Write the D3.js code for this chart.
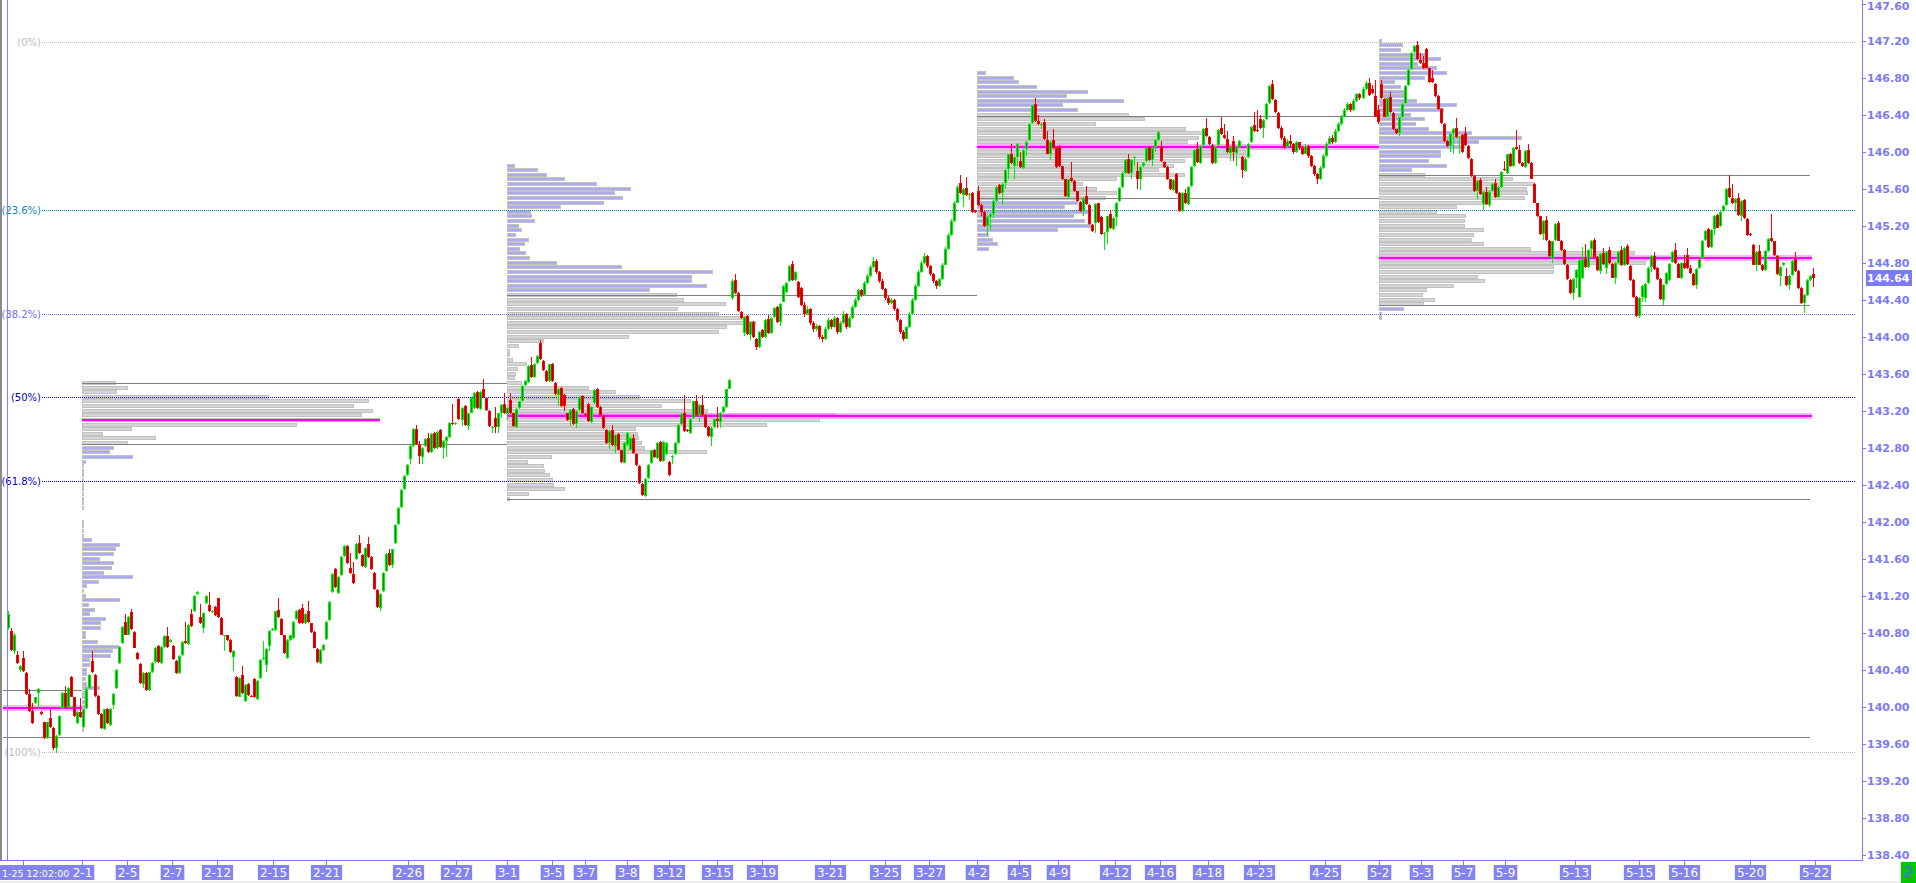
<!DOCTYPE html>
<html><head><meta charset="utf-8">
<script src="https://cdn.jsdelivr.net/npm/d3@7"></script>
<style>html,body{margin:0;padding:0;background:#fff;overflow:hidden}</style>
</head><body><svg id="c" width="1916" height="883"></svg>
<script>
// ---------------- DATA ----------------
// candle prices are stored in hundredths of a yen above PRICE_BASE: [open, high, low, close]
const PRICE_BASE = 140;
const ohlcFeb = [
[85,103,83,100],[82,85,60,61],[60,80,57,78],[56,60,46,47],[40,45,38,44],[53,60,37,39],[36,37,13,14],[14,19,-6,-5],[-5,4,-19,-18],[4,11,3,10],
[15,20,-2,19],[-6,-5,-9,-8],[-17,-16,-35,-34],[-34,-16,-35,-17],[-12,-2,-23,-22],[-23,-22,-47,-45],[-45,-31,-50,-32],[-31,-9,-32,-10],[-1,16,-2,15],[15,22,-1,0],
[0,21,-1,20],[32,33,10,11],[10,11,-11,-10],[-18,-5,-19,-6],[-6,9,-12,-11],[-22,-2,-23,-3],[-1,20,-2,19],[20,35,19,34],[49,60,36,37],[34,35,11,12],
[12,13,-9,-8],[-8,-7,-24,-23],[-24,-2,-25,-3],[-2,-1,-19,-18],[-20,-1,-21,-2],[2,15,-2,14],[20,41,19,40],[47,66,46,65],[69,87,68,86],[92,100,77,78],
[78,98,77,97],[102,106,83,84],[81,82,63,64],[58,59,51,52],[46,47,25,26],[25,37,20,36],[36,37,17,18],[18,38,17,37],[37,48,36,47],[48,65,47,64],
[66,67,47,48],[47,66,46,65],[65,77,64,76],[76,86,64,65],[70,73,69,72],[66,67,51,52],[49,50,35,36],[36,56,35,55],[56,71,55,70],[71,92,68,69],
[68,89,67,88],[100,106,86,87],[103,121,102,120],[122,125,121,124],[97,111,89,90],[85,102,80,101],[112,121,111,120],[110,124,102,103],[102,105,101,104],[108,109,98,99],
[117,118,96,97],[96,97,77,78],[77,78,60,77],[77,78,71,72],[72,73,58,59],[54,61,39,60],[32,33,11,12],[11,32,10,31],[34,44,14,15],[6,24,5,23],
[25,26,12,13],[12,13,10,11],[30,31,9,10],[8,29,7,28],[31,52,30,51],[52,71,51,53],[45,63,38,62],[66,83,60,82],[83,85,82,84],[83,104,82,103],
[105,117,96,97],[95,96,77,78],[77,78,57,58],[53,73,52,72],[72,78,71,77],[74,93,73,92],[95,105,94,104],[105,106,89,90],[107,111,89,90],[90,101,89,100],
[103,114,91,92],[90,91,80,81],[81,82,63,64],[62,63,47,48],[47,62,46,61],[61,68,60,67],[73,93,72,92],[94,114,93,113],
[124,145,123,144],[149,150,128,129],[123,141,122,140],[142,163,141,162],[163,175,162,174],[174,175,154,155],[150,166,144,145],[144,156,133,134],[160,177,159,176],[177,186,165,166],
[164,165,151,152],[151,173,150,172],[176,183,161,162],[162,163,148,149],[145,146,126,127],[126,127,107,108],[107,123,103,122],[125,146,124,145],[147,166,146,165],[166,170,152,153],
[153,171,150,170],[177,197,176,196],[197,216,196,215],[216,235,215,234],[235,250,234,249],[250,262,249,261],[268,283,262,282],[282,301,281,300],[300,305,283,284],[283,287,262,271],
[270,281,262,280],[282,290,281,289],[290,296,274,275],[275,296,274,295],[296,297,279,280],[280,298,279,297],[299,300,280,281],[280,288,268,287],[287,293,270,292],[292,308,291,307],
[307,327,305,306],[306,308,305,307],[333,334,310,311],[310,324,304,323],[325,326,304,305],[303,318,299,317],[318,335,317,334],[323,340,322,339],[340,341,322,323],[322,341,321,340],
[343,354,334,335],[334,335,320,321],[320,321,302,303],[302,303,296,302],[312,324,296,302],[302,318,296,317],[317,327,312,326],[327,339,316,317],[316,324,310,323],[332,339,316,317],
[317,318,302,303],[302,323,301,322],[323,331,322,330],[331,348,330,347]
];
const ohlcMar = [
[348,353,347,352],[351,369,350,368],[369,378,355,356],[356,372,355,371],[372,380,371,379],[393,396,375,376],[374,375,363,364],[363,364,351,352],[352,371,351,370],[371,372,351,352],
[350,351,337,338],[337,345,325,344],[345,346,324,325],[337,338,320,325],[317,318,309,310],[310,322,303,321],[322,323,305,306],[306,321,301,320],[321,336,320,335],[336,337,316,317],
[316,317,314,315],[327,328,308,309],[308,325,307,324],[328,343,327,342],[343,345,323,324],[324,325,314,315],[314,315,300,301],[299,300,284,285],[285,299,279,298],[299,305,282,283],
[282,295,274,294],[295,296,277,278],[277,278,264,265],[264,286,263,285],[283,297,282,296],[278,292,277,291],[291,295,273,274],[273,274,260,261],[260,261,241,242],[241,242,228,229],
[228,247,227,246],[247,262,246,261],[263,278,262,277],[278,279,269,270],[269,286,268,285],[286,287,265,266],[266,287,265,286],[273,286,272,285],[265,266,249,250],[270,272,262,271],
[273,286,272,285],[285,306,284,305],[306,317,305,316],[317,337,297,298],[299,300,297,298],[296,312,295,311],[312,331,311,330],[330,337,314,315],[315,327,308,326],[326,337,314,315],
[315,316,301,302],[302,303,292,293],[292,302,282,301],[302,312,301,311],[311,324,301,309],[308,319,301,318],[319,325,318,324],[324,344,323,343],[344,354,343,353],
[442,462,440,460],[461,468,446,447],[447,448,427,428],[427,428,419,420],[404,422,401,421],[422,423,402,403],[402,417,396,416],[416,417,399,400],[398,399,386,389],[389,406,388,405],
[407,408,399,400],[400,419,399,418],[419,423,403,404],[404,421,403,420],[421,432,420,431],[432,433,415,416],[416,436,412,435],[438,456,437,455],[448,459,447,458],[460,477,459,476],
[479,482,460,461],[461,471,460,470],[459,460,442,443],[453,454,433,434],
[434,437,421,425],[425,433,423,430],[430,431,413,415],[415,417,405,408],[408,414,406,412],[412,413,397,400],[400,402,394,398],[398,410,396,408],[408,420,407,418],[418,419,408,410],
[410,422,409,420],[420,421,403,405],[405,417,404,415],[415,428,414,425],[425,426,408,410],[410,422,409,420],[420,434,419,432],[432,442,431,440],[440,452,439,450],[450,452,443,445],
[445,460,444,458],[458,468,457,466],[466,477,465,475],[475,486,474,482],[482,484,468,470],[470,471,458,460],[460,462,450,452],[452,453,440,442],[442,444,434,436],[436,442,435,440],
[440,441,428,430],[430,431,416,418],[418,419,403,405],[405,407,395,398],[398,412,397,410],[410,427,409,425],[425,442,424,440],[440,457,439,455],[455,472,454,470],[470,482,469,480],
[480,490,479,487],[487,488,474,476],[476,478,466,468],[468,469,458,460],[460,461,452,455],[455,464,454,462],[462,480,461,478],[478,497,477,495],[495,512,494,510],[510,527,509,525],
[525,547,524,545],[545,564,544,562]
];
const ohlcApr = [
[566,575,554,555],[553,561,540,560],[561,573,552,553],[553,555,548,554],[555,556,534,535],[536,537,534,535],[557,563,541,542],[542,543,530,535],[535,536,519,520],[520,530,510,529],
[529,534,515,533],[533,548,528,547],[547,563,546,562],[564,565,554,555],[555,566,542,565],[566,581,560,580],[581,598,570,597],[598,608,587,588],[585,595,570,594],[594,609,585,608],
[590,600,582,583],[582,603,581,602],[603,612,595,611],[613,631,612,630],[631,651,630,650],[652,658,632,633],[633,640,629,630],[629,631,625,630],[632,635,613,614],[613,622,597,598],
[598,612,591,611],[613,624,603,604],[604,605,582,583],[606,607,583,584],[584,585,569,570],[570,571,551,552],[551,571,550,570],[572,589,567,568],[568,569,556,557],[557,558,546,547],
[546,547,535,536],[536,551,530,550],[552,563,542,543],[542,543,521,522],[521,522,513,514],[523,544,512,543],[544,545,523,524],[529,530,510,511],[511,513,494,512],[513,531,500,530],
[533,537,516,517],[516,529,515,528],[529,546,520,545],[547,562,546,561],[562,578,561,577],[577,592,576,591],[592,597,576,577],[577,592,570,591],[593,595,585,594],[579,589,560,570],
[570,584,559,583],[584,589,583,588],[590,605,589,604],[605,606,590,591],[591,605,585,604],[605,614,600,613],[613,622,612,621],[606,612,589,590],[589,590,582,583],[583,584,569,570],
[570,571,559,560],[559,570,558,569],[576,577,554,555],[555,556,535,536],[536,556,535,555],[555,560,543,544],[543,563,542,562],[563,584,562,583],[584,603,583,602],[603,610,588,589],
[588,607,587,606],[607,626,606,625],[626,636,616,617],[616,617,607,608],[607,608,587,588],[588,606,587,605],[607,624,606,623],[626,638,618,619],[618,630,614,615],[614,622,599,600],
[599,606,590,605],[612,617,590,600],[599,606,585,605],[605,613,604,612],[594,595,572,580],[579,593,578,592],[594,609,593,608],[610,628,609,627],[629,643,621,622],[623,645,621,622],
[635,640,625,626],[626,635,615,634],[635,653,634,652],[653,672,652,671],[673,677,656,657],[656,657,642,643],[642,643,625,626],
[626,628,613,615],[615,617,603,605],[605,614,604,612],[612,618,606,608],[608,609,598,600],[600,612,599,610],[610,611,602,604],[604,605,596,598],[598,608,597,606],[606,607,593,595],
[595,596,583,585],[585,586,574,576],[576,577,565,570],[570,584,569,582],[582,597,581,595],[595,610,594,608],[608,617,607,615],[615,618,608,610],[610,624,609,622],[622,632,621,630],
[630,640,629,638],[638,647,637,645],[645,654,644,652],[652,653,643,645],[645,657,644,655],[655,664,654,662],[662,663,656,658],[658,670,657,668],[668,676,667,674]
];
const ohlcMay = [
[674,680,660,661],[668,672,662,663],[660,678,637,638],[645,650,630,632],[673,678,657,658],[657,658,637,638],[638,659,637,658],[659,665,642,643],[642,643,623,624],[624,625,619,620],
[620,638,617,637],[637,653,636,652],[653,672,652,671],[672,689,671,688],[689,708,688,707],[708,715,707,714],[715,720,699,700],[699,707,695,696],[696,703,689,690],[711,712,690,691],
[690,691,674,675],[680,688,674,675],[673,674,659,660],[660,661,645,646],[646,647,630,631],[630,631,611,612],[612,613,605,606],[606,620,600,619],[620,626,598,625],[626,636,615,616],
[615,617,597,616],[618,619,599,600],[620,627,606,607],[606,607,592,593],[592,593,573,574],[574,575,556,557],[557,569,549,568],[569,572,553,554],[543,557,537,556],[556,562,542,543],
[542,557,540,556],[557,566,556,565],[566,570,550,551],[551,563,550,562],[562,579,561,578],[581,590,579,580],[577,598,576,597],[598,599,583,584],[584,605,583,604],[605,623,602,603],
[602,607,587,588],[588,589,583,584],[583,602,582,601],[602,608,587,588],[588,589,570,571],[565,566,544,545],[544,545,529,530],[530,531,510,511],[511,526,505,525],[526,530,504,505],
[504,505,486,487],[484,504,480,503],[505,523,504,522],[523,525,503,504],[504,505,493,494],[494,495,478,479],[478,479,461,462],[461,462,446,447],[447,463,440,462],[463,473,453,472],
[443,484,442,483],[463,497,462,484],[484,500,474,475],[475,495,474,494],[495,505,485,504],[505,507,485,486],[486,487,471,472],[471,490,468,489],[490,496,478,479],[474,493,468,492],
[494,497,479,480],[479,480,463,464],[464,481,457,480],[480,493,479,492],[494,498,476,477],[477,497,476,496],[498,500,478,479],[476,477,460,461],[461,462,442,443],[443,444,421,422],
[422,443,420,442],[443,456,438,455],[442,458,437,457],[458,475,457,474],[475,488,470,487],[487,492,472,473],[474,475,461,462],[462,463,440,441],[440,457,434,456],[457,470,456,469],
[461,480,460,479],
[481,493,480,492],[494,501,479,480],[479,480,463,464],[464,481,462,480],[480,488,473,474],[488,496,473,474],[474,478,468,469],[468,469,455,456],[456,474,452,473],[474,485,473,484],
[485,505,484,504],[505,515,504,514],[516,517,496,497],[497,516,496,515],[516,532,510,531],[532,533,517,518],[520,536,519,535],[536,542,535,541],[542,561,541,560],[561,575,550,551],
[550,565,543,544],[544,550,535,549],[550,555,531,532],[530,548,525,547],[548,549,527,528],[527,528,509,510],[511,512,509,510],[499,500,477,478],[478,493,471,492],[493,499,477,478],
[478,479,471,472],[472,494,471,493],[493,507,492,506],[507,533,502,503],[503,504,487,488],[487,488,467,468],[466,476,455,475],[477,481,476,480],[466,474,455,456],[456,467,450,466],
[467,483,466,482],[484,492,470,471],[471,472,452,453],[453,454,435,436],[436,446,426,445],[445,462,444,461],[461,467,460,466],[468,474,454,464]
];

// date ticks (position given as candle index)
const dayLabels = ["1-25 12:02:00","2-1","2-5","2-7","2-12","2-15","2-21","2-26","2-27","3-1","3-5","3-7","3-8","3-12","3-15","3-19","3-21","3-25","3-27",
  "4-2","4-5","4-9","4-12","4-16","4-18","4-23","4-25","5-2","5-3","5-7","5-9","5-13","5-15","5-16","5-20","5-22"];
const dayIndex = [5,24.8,39.6,54.5,69.5,88.4,106,133.3,149.3,166.2,181.2,192.1,206.1,220,236,251,273.6,291.9,306.8,
  322.8,336.7,349.7,368.6,383.6,399.6,416.5,438.5,456.4,470.4,484.3,498.3,521.9,543.2,558.1,580,601.7];

// price axis
const priceTicks = [138.4,138.8,139.2,139.6,140.0,140.4,140.8,141.2,141.6,142.0,142.4,142.8,143.2,143.6,144.0,144.4,144.8,145.2,145.6,146.0,146.4,146.8,147.2,147.6];
const lastPrice = 144.64;

// Fibonacci retracement
const fibHigh = 147.183, fibLow = 139.507;
const fibLevels = [0, 23.6, 38.2, 50, 61.8, 100];
const fibNames = ["(0%)","(23.6%)","(38.2%)","(50%)","(61.8%)","(100%)"];

// monthly volume profiles (bins 0.05 apart, from top price downward)
const profStart = [24.8, 166.2, 322.8, 456.4];
const profTop   = [143.50, 145.85, 146.85, 147.20];
const profVAH   = [143.50, 144.45, 146.40, 145.75];
const profVAL   = [142.85, 142.25, 145.50, 144.35];
const profPOC   = [143.10, 143.15, 146.05, 144.85];
const p1Vols = [34,46,35,187,287,272,291,280,298,215,50,21,74,46,
  32,28,51,4,
  2,2,2,2,2,2,2,2,2,2,0,0,2,2,2,2,
  10,38,34,32,18,32,30,22,51,17,5,2,4,38,7,13,8,24,19,19,4,4,16,37,31,29,8,8,5,5,4,5,18,5,4,5,6,2,2,2,2,2];
const p2Vols = [8,31,40,58,90,124,108,116,97,54,24,25,28,12,15,9,22,18,13,19,23,50,115,206,185,185,200,143,
  170,177,219,171,212,241,249,220,212,122,37,12,3,3,6,20,11,9,8,15,82,109,133,184,155,201,329,313,260,129,131,132,135,138,200,45,21,37,38,43,46,47,58,22,3];
const p3Vols = [9,37,42,60,111,90,147,86,101,
  152,168,119,209,228,222,211,280,269,273,208,197,182,208,140,106,120,140,129,
  101,88,114,97,108,117,81,12,16,21,12];
const p4Vols = [3,24,22,49,62,39,58,68,46,16,22,28,26,38,78,65,32,46,37,50,93,143,100,86,62,62,50,68,33,
  46,134,156,148,149,146,110,78,58,87,86,86,105,95,93,105,152,256,300,267,175,175,99,106,75,48,44,56,45,
  25,3,3];

// value-area boundary lines and extended point-of-control lines: [price, fromIndex, toIndex]
const vaLines = [[140.18,-1.7,24.8],[139.67,-1.7,600],[143.496,24.8,166.2],[142.837,24.8,166.2],
  [144.45,166.2,322.8],[142.245,166.2,600],[146.39,322.8,456.4],[145.50,322.8,456.4],[145.745,456.4,600],[144.34,456.4,600]];
const pocLines = [[139.99,-1.7,24.8],[143.146,166.2,600.7],[146.05,322.8,456.4],[144.85,456.4,600.7]];

// ---------------- DRAW ----------------
const W = 1916, H = 883, AX = 1862, AY = 860;
const FONT = "'DejaVu Sans', Verdana, sans-serif";
const AXIS_COL = "#7b7bf5";
const svg = d3.select("#c");
const candles = [].concat(ohlcFeb, ohlcMar, ohlcApr, ohlcMay).map((d, i) => ({
  i, o: PRICE_BASE + d[0] / 100, h: PRICE_BASE + d[1] / 100, l: PRICE_BASE + d[2] / 100, c: PRICE_BASE + d[3] / 100 }));

const x = d3.scaleLinear().domain([0, candles.length - 1]).range([8, 1813]);
const y = d3.scaleLinear().domain([138.4, 147.6]).range([854.7, 3.7]);
const volPx = d3.scaleLinear().domain([0, 100]).range([0, 100]);

svg.append("rect").attr("width", W).attr("height", H).attr("fill", "#fff");
svg.append("rect").attr("x", 0).attr("y", 881).attr("width", W).attr("height", 2).attr("fill", "#ececec");
svg.append("defs").append("clipPath").attr("id", "plot")
  .append("rect").attr("x", 0).attr("y", 0).attr("width", AX).attr("height", AY);
const plot = svg.append("g").attr("clip-path", "url(#plot)").attr("shape-rendering", "crispEdges");

// volume profiles
profStart.forEach((s, k) => {
  const vols = [p1Vols, p2Vols, p3Vols, p4Vols][k];
  const x0 = Math.round(x(s));
  const rows = vols.map((v, j) => ({ p: +(profTop[k] - 0.05 * j).toFixed(2), v }));
  const g = plot.append("g");
  g.selectAll("rect").data(rows.filter(r => r.v > 0)).join("rect")
    .attr("x", x0 + 0.5)
    .attr("y", r => Math.round(y(r.p)) - 2 + 0.5)
    .attr("width", r => Math.max(1, volPx(r.v) - 1))
    .attr("height", 3)
    .attr("fill", r => Math.abs(r.p - profPOC[k]) < 0.001 ? "#ff9cff" :
      (r.p <= profVAH[k] + 0.001 && r.p >= profVAL[k] - 0.001) ? "#d5d5d5" : "#aaabf1")
    .attr("stroke", "#c2c2c2").attr("stroke-width", 1);
  const pr = rows.find(r => Math.abs(r.p - profPOC[k]) < 0.001);
  g.append("rect").attr("x", x0).attr("y", Math.round(y(pr.p)) - 1)
    .attr("width", volPx(pr.v)).attr("height", 2).attr("fill", "#ff00ff");
});

// fibonacci dotted lines
const fibCols = ["#bdbdbd", "#0a86c8", "#6f6ff0", "#0000c8", "#0000c8", "#bdbdbd"];
fibLevels.forEach((pct, k) => {
  const p = fibHigh - (fibHigh - fibLow) * pct / 100;
  const yy = Math.round(y(p)) + 0.5;
  plot.append("line").attr("x1", 42).attr("x2", 1855).attr("y1", yy).attr("y2", yy)
    .attr("stroke", fibCols[k]).attr("stroke-width", 1).attr("stroke-dasharray", "1,1");
  svg.append("text").attr("x", 41).attr("y", yy).attr("text-anchor", "end")
    .attr("dominant-baseline", "central").attr("font-family", FONT).attr("font-size", 10)
    .attr("fill", fibCols[k]).text(fibNames[k]);
});

// value area lines
plot.selectAll(".va").data(vaLines).join("line").attr("class", "va")
  .attr("x1", d => Math.round(x(d[1]))).attr("x2", d => Math.round(x(d[2])))
  .attr("y1", d => Math.round(y(d[0])) + 0.5).attr("y2", d => Math.round(y(d[0])) + 0.5)
  .attr("stroke", "#7f7f7f").attr("stroke-width", 1);

// extended POC lines
pocLines.forEach(d => {
  const x1 = Math.round(x(d[1])), x2 = Math.round(x(d[2])), yy = Math.round(y(d[0]));
  plot.append("rect").attr("x", x1).attr("y", yy - 3).attr("width", x2 - x1).attr("height", 6)
    .attr("fill", "#ff9cff").attr("opacity", 0.75);
  plot.append("rect").attr("x", x1).attr("y", yy - 1).attr("width", x2 - x1).attr("height", 2)
    .attr("fill", "#ff00ff");
});

// candles
const cg = plot.append("g");
candles.forEach(d => {
  const up = d.c >= d.o;
  const bright = up ? "#00ee00" : "#ff0000";
  const dark = up ? "#008a00" : "#a00000";
  const xc = Math.round(x(d.i));
  const yh = Math.round(y(d.h)), yl = Math.round(y(d.l));
  cg.append("rect").attr("x", xc).attr("y", yh).attr("width", 1).attr("height", Math.max(1, yl - yh)).attr("fill", bright);
  const top = Math.round(y(Math.max(d.o, d.c))), bot = Math.round(y(Math.min(d.o, d.c)));
  const bh = Math.max(1, bot - top);
  cg.append("rect").attr("x", xc - 1).attr("y", top).attr("width", 3).attr("height", bh).attr("fill", bright);
  if (bh > 2) cg.append("rect").attr("x", xc).attr("y", top + 1).attr("width", 1).attr("height", bh - 2).attr("fill", dark);
});

// left border lines
svg.append("rect").attr("x", 0).attr("y", 0).attr("width", 2).attr("height", AY).attr("fill", "#8a8a8a");
svg.append("rect").attr("x", 7).attr("y", 0).attr("width", 1).attr("height", AY).attr("fill", "#8080ff");

// right price axis
const ax = svg.append("g").attr("shape-rendering", "crispEdges");
ax.append("line").attr("x1", AX + 0.5).attr("x2", AX + 0.5).attr("y1", 0).attr("y2", AY + 0.5).attr("stroke", AXIS_COL);
ax.append("line").attr("x1", 0).attr("x2", AX + 0.5).attr("y1", AY + 0.5).attr("y2", AY + 0.5).attr("stroke", AXIS_COL);
priceTicks.forEach(t => {
  const yy = Math.round(y(t)) + 0.5;
  ax.append("line").attr("x1", AX).attr("x2", AX + 4).attr("y1", yy).attr("y2", yy).attr("stroke", AXIS_COL);
  svg.append("text").attr("x", 1867).attr("y", Math.max(yy, 6)).attr("dominant-baseline", "central")
    .attr("font-family", FONT).attr("font-weight", "bold").attr("font-size", 11)
    .attr("fill", AXIS_COL).text(t.toFixed(2));
});
const ly = Math.round(y(lastPrice));
svg.append("rect").attr("x", 1866).attr("y", ly - 8).attr("width", 46).attr("height", 16).attr("fill", AXIS_COL);
svg.append("text").attr("x", 1867).attr("y", ly).attr("dominant-baseline", "central")
  .attr("font-family", FONT).attr("font-weight", "bold").attr("font-size", 11)
  .attr("fill", "#fff").text(lastPrice.toFixed(2));

// bottom date labels
const lg = svg.append("g");
dayLabels.forEach((lab, k) => {
  const xx = Math.round(x(dayIndex[k])) + 0.5;
  ax.append("line").attr("x1", xx).attr("x2", xx).attr("y1", AY).attr("y2", AY + 6).attr("stroke", AXIS_COL);
  const g = lg.append("g");
  const bx = g.append("rect");
  const tx = g.append("text").attr("y", 877)
    .attr("font-family", FONT).attr("font-size", 12).attr("fill", "#fff").text(lab);
  if (k === 0) {
    // the long starting time label sits against the left edge, ending where the "2-1" box begins
    tx.attr("font-size", 9.5).attr("x", 2).attr("text-anchor", "start");
    const w = tx.node().getComputedTextLength();
    bx.attr("x", 0).attr("y", 865).attr("width", w + 4).attr("height", 15).attr("fill", "#8383f3");
  } else {
    tx.attr("x", xx).attr("text-anchor", "middle");
    const w = tx.node().getComputedTextLength();
    bx.attr("x", xx - w / 2 - 2).attr("y", 865).attr("width", w + 4).attr("height", 15).attr("fill", "#8383f3");
  }
});

// corner marker
svg.append("rect").attr("x", 1901).attr("y", 862).attr("width", 15).attr("height", 21).attr("fill", "#00c800");
svg.append("text").attr("x", 1908.5).attr("y", 878).attr("text-anchor", "middle")
  .attr("font-family", FONT).attr("font-size", 15).attr("fill", "#5a5aff").text("2");
</script></body></html>
